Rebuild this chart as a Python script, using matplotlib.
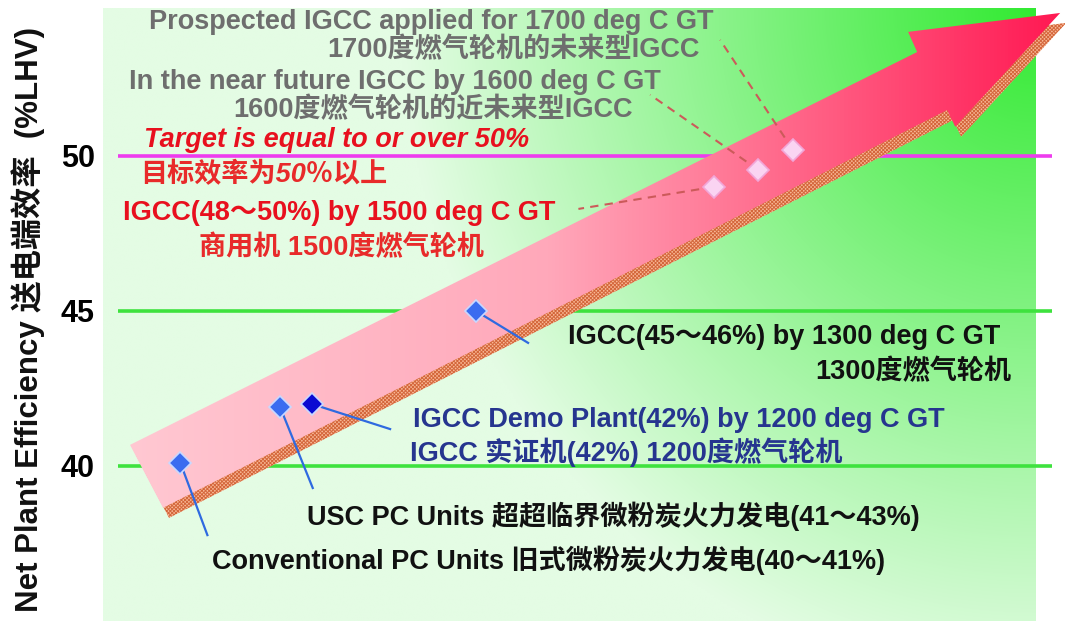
import numpy as np
import matplotlib as mpl
mpl.use('Agg')
import matplotlib.pyplot as plt
from matplotlib.patches import Polygon
from matplotlib.colors import LinearSegmentedColormap
from matplotlib.transforms import ScaledTranslation

plt.rcParams['font.family'] = ['Liberation Sans', 'Noto Sans CJK SC']
plt.rcParams['hatch.linewidth'] = 0.7

# plant types along the development path (x = stage position, y = net efficiency %LHV)
stage = [8.3, 19.0, 22.4, 40.0, 65.5, 70.3, 74.0]
eff = [40.1, 41.9, 42.0, 45.0, 49.0, 49.55, 50.2]
face = ['#3a6cf0', '#3a6cf0', '#0a0ad2', '#3a6cf0', '#fad4f2', '#fad4f2', '#fad4f2']
edge = ['#c8d8ff', '#c8d8ff', '#c8d8ff', '#c8d8ff', '#f2a6d8', '#f2a6d8', '#f2a6d8']

# leader line ends for each marker (solid for existing plants, dashed for future)
lead_x = [11.2, 22.5, 30.8, 45.6, 51.0, 58.7, 66.2]
lead_y = [37.77, 39.29, 41.19, 43.97, 48.29, 51.97, 53.74]
lead_dash = [False, False, False, False, True, True, True]

ref_lines = [40, 45, 50]
ref_colors = ['#3ee23e', '#3ee23e', '#ee3cee']

labels = [
    ('Prospected IGCC applied for 1700 deg C GT', 35.2, 54.32, '#6e6e6e', 'normal'),
    ('1700度燃气轮机的未来型IGCC', 44.0, 53.42, '#6e6e6e', 'normal'),
    ('In the near future IGCC by 1600 deg C GT', 31.3, 52.39, '#6e6e6e', 'normal'),
    ('1600度燃气轮机的近未来型IGCC', 35.35, 51.48, '#6e6e6e', 'normal'),
    ('Target is equal to or over 50%', 25.05, 50.52, '#e8101e', 'italic'),
    ('目标效率为50％以上', 17.3, 49.39, '#e82a2a', 'italic'),
    ('IGCC(48～50%) by 1500 deg C GT', 25.3, 48.16, '#e8101e', 'normal'),
    ('商用机 1500度燃气轮机', 25.6, 47.03, '#e82a2a', 'normal'),
    ('IGCC(45～46%) by 1300 deg C GT', 73.1, 44.16, '#111111', 'normal'),
    ('1300度燃气轮机', 86.9, 43.03, '#111111', 'normal'),
    ('IGCC Demo Plant(42%) by 1200 deg C GT', 61.75, 41.48, '#26358f', 'normal'),
    ('IGCC 实证机(42%) 1200度燃气轮机', 56.1, 40.45, '#26358f', 'normal'),
    ('USC PC Units 超超临界微粉炭火力发电(41～43%)', 54.7, 38.39, '#111111', 'normal'),
    ('Conventional PC Units 旧式微粉炭火力发电(40～41%)', 47.8, 36.97, '#111111', 'normal'),
]

# big trend arrow outline (tail -> head)
arrow_x = [2.9, 87.34, 86.37, 102.68, 91.42, 90.56, 6.44]
arrow_y = [40.68, 53.35, 54.0, 54.61, 50.94, 51.48, 38.65]

fig = plt.figure(figsize=(10.65, 6.21), dpi=100)
ax = fig.add_axes([103/1065, 0, 962/1065, 613/621])
ax.patch.set_visible(False)
x0, x1, y0, y1 = 0, 103.2, 35.0, 54.77

# green background, brightest in the upper right corner
gx, gy = np.meshgrid(np.linspace(0, 100, 500), np.linspace(y0, y1, 300))
t = np.clip(np.hypot((100 - gx)/68.0, (y1 - gy)/22.0), 0, 1)
mix = (1 - t)**1.0
pale = np.array([228, 252, 228]) / 255.
bright = np.array([50, 234, 50]) / 255.
bg = pale[None, None, :]*(1 - mix[..., None]) + bright[None, None, :]*mix[..., None]
ax.imshow(bg, extent=(0, 100, y0, y1), origin='lower', aspect='auto',
          interpolation='bilinear', zorder=0)

for yv, c in zip(ref_lines, ref_colors):
    ax.plot([1.6, 101.8], [yv, yv], color=c, lw=2.6, zorder=1, solid_capstyle='butt')

# hatched drop shadow of the arrow
arrow_xy = np.column_stack([arrow_x, arrow_y])
shadow = Polygon(arrow_xy, closed=True, facecolor='#f9b896', edgecolor='#d4673c',
                 lw=0, hatch='x'*9, zorder=2,
                 transform=ax.transData + ScaledTranslation(6/100, -10/100, fig.dpi_scale_trans))
ax.add_patch(shadow)

# arrow body: pink gradient clipped to the outline
body = Polygon(arrow_xy, closed=True, facecolor='none', edgecolor='none', zorder=3)
ax.add_patch(body)
pink = LinearSegmentedColormap.from_list('pink', [(0, '#ffc8d2'), (0.45, '#ffa8ba'),
                                                  (0.75, '#ff5c82'), (1, '#ff1852')])
grad = np.linspace(0, 1, 256)[None, :]
im = ax.imshow(grad, extent=(2.5, 103.2, 38.4, 54.8), cmap=pink, aspect='auto',
               interpolation='bilinear', zorder=3)
im.set_clip_path(body)

for xs, ys, lx, ly, dashed in zip(stage, eff, lead_x, lead_y, lead_dash):
    if dashed:
        ax.plot([xs, lx], [ys, ly], color='#cc5a5a', lw=1.5, ls=(0, (4, 3)), zorder=4)
    else:
        ax.plot([xs, lx], [ys, ly], color='#2f6ae0', lw=1.6, zorder=4)

for xs, ys, fc, ec in zip(stage, eff, face, edge):
    ax.plot(xs, ys, marker='D', ms=11.5, mfc=fc, mec=ec, mew=1.2, zorder=5, ls='none')

for txt, tx, ty, c, st in labels:
    ax.text(tx, ty, txt, color=c, fontsize=19.5, fontweight='bold', style=st,
            ha='center', va='center', zorder=6)

ax.set_xlim(x0, x1)
ax.set_ylim(y0, y1)
for s in ax.spines.values():
    s.set_visible(False)
ax.set_xticks([])
ax.set_yticks(ref_lines)
ax.set_yticklabels([str(v) for v in ref_lines], fontsize=22, fontweight='bold')
ax.tick_params(axis='y', length=0, pad=6)

fig.text(28/1065, 1 - 319/621, 'Net Plant Efficiency 送电端效率  (%LHV)', rotation=90,
         ha='center', va='center', fontsize=22.5, fontweight='bold', color='#111111')

fig.savefig('out.png', dpi=100, facecolor='w')
